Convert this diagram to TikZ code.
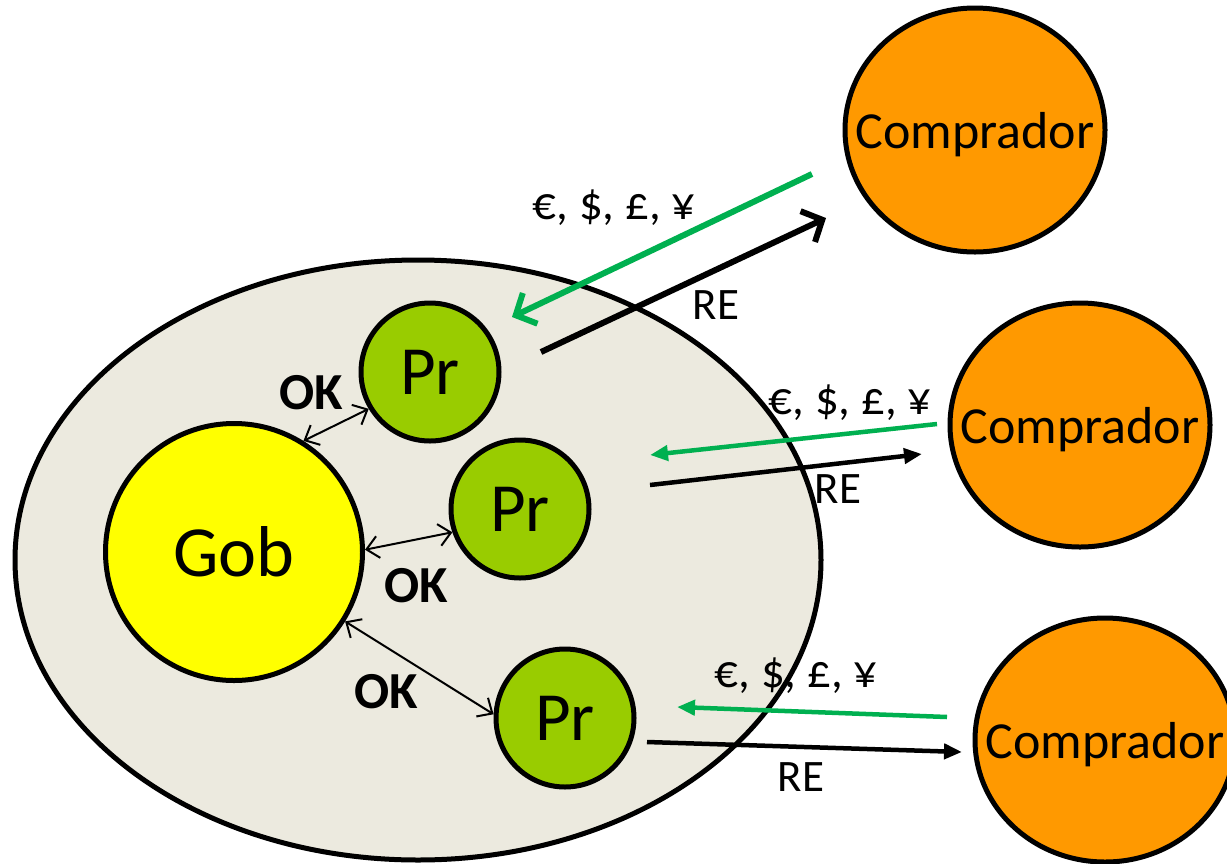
\documentclass[tikz,border=0pt]{standalone}
\usepackage{fontspec}
\setmainfont{Carlito}
\usetikzlibrary{arrows.meta,shapes.geometric}
\begin{document}
\begin{tikzpicture}[x=1pt,y=-1pt,
  prnode/.style={circle,draw=black,line width=5pt,inner sep=0pt,minimum size=138pt,fill=prgreen,font=\fontsize{69}{70}\selectfont},
  compnode/.style={ellipse,draw=black,line width=5pt,inner sep=0pt,minimum width=260pt,minimum height=244pt,fill=comporange},
  comptext/.style={font=\fontsize{52}{56}\selectfont,yshift=-5pt},
  money/.style={font=\fontsize{47}{50}\selectfont},
  retext/.style={font=\fontsize{45}{50}\selectfont},
  oktext/.style={font=\bfseries\fontsize{52}{54}\selectfont},
  okarrow/.style={line width=2pt,{Straight Barb[length=12pt,width=22pt]}-{Straight Barb[length=12pt,width=22pt]}},
  bigbarb/.style={line width=6pt,-{Straight Barb[length=16pt,width=34pt]}},
  tri/.style={line width=4.5pt,-{Triangle[length=18pt,width=15pt]}}
]
\definecolor{prgreen}{HTML}{99CC00}
\definecolor{comporange}{HTML}{FF9900}
\definecolor{gobyellow}{HTML}{FFFF00}
\definecolor{ellfill}{HTML}{ECEADF}
\definecolor{moneygreen}{HTML}{00B050}
\useasboundingbox (0,0) rectangle (1227,863);

% big ellipse
\node[ellipse,draw=black,line width=5pt,fill=ellfill,inner sep=0pt,minimum width=806pt,minimum height=600pt] (pais) at (418,560) {};

% nodes
\node[circle,draw=black,line width=5pt,inner sep=0pt,minimum size=257pt,fill=gobyellow,font=\fontsize{72}{74}\selectfont] (gob) at (234,552) {Gob};
\node[prnode] (pr1) at (430,372) {Pr};
\node[prnode] (pr2) at (520,509) {Pr};
\node[prnode] (pr3) at (565,718) {Pr};

\node[compnode,label={[comptext]center:Comprador}] (c1) at (975,130) {};
\node[compnode,label={[comptext]center:Comprador}] (c2) at (1080,425) {};
\node[compnode,label={[comptext]center:Comprador}] (c3) at (1105,740) {};

% OK arrows
\draw[okarrow] (gob.58) -- (pr1.211);
\draw[okarrow] (gob.1) -- (pr2.199);
\draw[okarrow] (gob.-32) -- (pr3.177);
\node[oktext] (ok1) at (311,393) {OK};
\node[oktext] (ok2) at (416,586) {OK};
\node[oktext] (ok3) at (386,692) {OK};

% money / RE arrows
\coordinate (g1s) at (812,174);
\coordinate (g1e) at (512,317);
\coordinate (b1s) at (541,352);
\coordinate (b1e) at (826,218);
\draw[bigbarb,draw=moneygreen] (g1s) -- (g1e);
\draw[bigbarb] (b1s) -- (b1e);
\node[money] (m1) at (614,208) {€, \$, £, ¥};
\node[retext] (re1) at (716,305) {RE};

\coordinate (g2s) at (937,424);
\coordinate (g2e) at (650,455);
\coordinate (b2s) at (650,485);
\coordinate (b2e) at (922,454);
\draw[tri,draw=moneygreen,fill=moneygreen] (g2s) -- (g2e);
\draw[tri] (b2s) -- (b2e);
\node[money] (m2) at (850,403) {€, \$, £, ¥};
\node[retext] (re2) at (838,489) {RE};

\coordinate (g3s) at (947,717);
\coordinate (g3e) at (677,707);
\coordinate (b3s) at (647,742);
\coordinate (b3e) at (962,752);
\draw[tri,draw=moneygreen,fill=moneygreen] (g3s) -- (g3e);
\draw[tri] (b3s) -- (b3e);
\node[money] (m3) at (796,676) {€, \$, £, ¥};
\node[retext] (re3) at (801,777) {RE};
\end{tikzpicture}
\end{document}
